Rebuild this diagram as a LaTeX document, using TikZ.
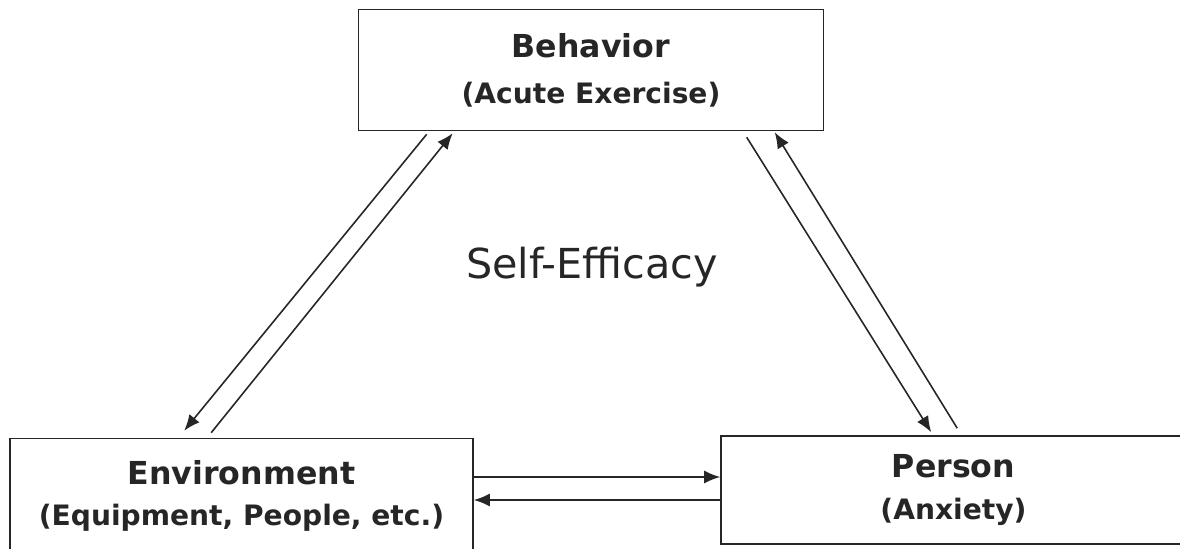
\documentclass[tikz,border=0pt]{standalone}
\usepackage{fontspec}
\setmainfont{DejaVu Sans}
\usetikzlibrary{arrows.meta,positioning}

\tikzset{
    factor/.style={
        draw=black!85,
        line width=0.9pt,
        fill=white,
        align=center,
        text=black!85,
        font=\bfseries\fontsize{18}{26}\selectfont
    },
    link/.style={
        line width=0.9pt,
        draw=black!85,
        -{Latex[length=3.2mm,width=2.6mm]}
    }
}

\begin{document}
\begin{tikzpicture}
            \useasboundingbox (0,0) rectangle (23.6,10.96);
            \begin{scope}
                \clip (0,0) rectangle (23.6,10.96);
                \node[factor,minimum width=9.3cm,minimum height=2.42cm] (beh) at (11.82,9.56)
                    {Behavior\\
                     {\fontsize{16}{26}\selectfont (Acute Exercise)}};
                \node[factor,font=\bfseries\fontsize{18}{23.5}\selectfont,
                      minimum width=9.26cm,minimum height=2.3cm] (env) at (4.83,1.04)
                    {Environment\\
                     {\fontsize{16}{23.5}\selectfont (Equipment, People, etc.)}};
                \node[factor,font=\bfseries\fontsize{18}{23.5}\selectfont,
                      minimum width=9.3cm,minimum height=2.16cm] (per) at (19.07,1.16)
                    {Person\\
                     {\fontsize{16}{23.5}\selectfont (Anxiety)}};
            \end{scope}
            \node[text=black!85,font=\fontsize{23.5}{28}\selectfont] (eff) at (11.84,5.62) {Self-Efficacy};
            % behavior <-> environment
            \draw[link] ([xshift=1.38cm,yshift=-0.06cm]beh.south west)
                -- ([xshift=3.5cm,yshift=0.14cm]env.north west);
            \draw[link] ([xshift=4.04cm,yshift=0.1cm]env.north west)
                -- ([xshift=1.9cm,yshift=-0.04cm]beh.south west);
            % behavior <-> person
            \draw[link] ([xshift=7.78cm,yshift=-0.12cm]beh.south west)
                -- ([xshift=4.22cm,yshift=0.06cm]per.north west);
            \draw[link] ([xshift=4.74cm,yshift=0.14cm]per.north west)
                -- ([xshift=8.34cm,yshift=-0.02cm]beh.south west);
            % environment <-> person
            \draw[link] ([yshift=0.38cm]env.east) -- ([yshift=0.38cm]env.east -| per.west);
            \draw[link] ([yshift=-0.08cm]env.east -| per.west) -- ([yshift=-0.08cm]env.east);
        \end{tikzpicture}
\end{document}
